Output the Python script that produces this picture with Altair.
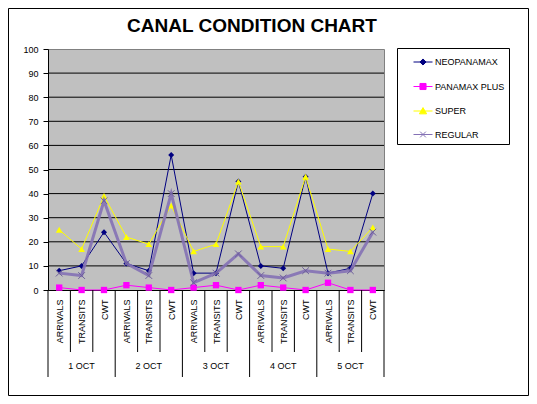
import altair as alt
import pandas as pd

# ---------------- data ----------------
title_text = "CANAL CONDITION CHART"
categories = ["ARRIVALS", "TRANSITS", "CWT"] * 5
days = ["1 OCT", "2 OCT", "3 OCT", "4 OCT", "5 OCT"]
series_names = ["NEOPANAMAX", "PANAMAX PLUS", "SUPER", "REGULAR"]
neopanamax = [8, 10, 24, 11, 8, 56, 7, 7, 45, 10, 9, 47, 7, 9, 40]
panamax_plus = [1, 0, 0, 2, 1, 0, 1, 2, 0, 2, 1, 0, 3, 0, 0]
super_ = [25, 17, 39, 22, 19, 35, 16, 19, 45, 18, 18, 47, 17, 16, 26]
regular = [7, 6, 37, 11, 6, 40, 3, 7, 15, 6, 5, 8, 7, 8, 24]
y_ticks = list(range(0, 101, 10))

values = {"NEOPANAMAX": neopanamax, "PANAMAX PLUS": panamax_plus,
          "SUPER": super_, "REGULAR": regular}
rows = []
for s in series_names:
    for i, v in enumerate(values[s]):
        rows.append({"series": s, "idx": i, "category": categories[i],
                     "day": days[i // 3], "value": v})
df = pd.DataFrame(rows)

n = len(categories)
per_day = n // len(days)
inner_bounds = [i + 0.5 for i in range(n - 1) if (i + 1) % per_day != 0]
group_bounds = [k * per_day - 0.5 for k in range(len(days) + 1)]
day_df = pd.DataFrame({"day": days, "center": [k * per_day + (per_day - 1) / 2 for k in range(len(days))]})

# ---------------- styles ----------------
W, H = 336, 241
FONT = "Liberation Sans"
styles = {
    "NEOPANAMAX": dict(line="#000080", mark="#000080", width=1, shape="diamond", size=36, filled=True),
    "PANAMAX PLUS": dict(line="#FF00FF", mark="#FF00FF", width=1, shape="square", size=40, filled=True),
    "SUPER": dict(line="#FFFF00", mark="#FFFF00", width=1, shape="triangle-up", size=45, filled=True),
    "REGULAR": dict(line="#8471B5", mark="#6D5E9A", width=3, shape="M-1,-1L1,1M-1,1L1,-1", size=45, filled=False),
}
legend_shapes = [
    "M-1,0H1M0,-0.32L0.32,0L0,0.32L-0.32,0Z",
    "M-1,0H1M-0.32,-0.32H0.32V0.32H-0.32Z",
    "M-1,0H1M0,-0.36L0.38,0.3H-0.38Z",
    "M-1,0H1M-0.3,-0.3L0.3,0.3M-0.3,0.3L0.3,-0.3",
]
legend_fill = [styles[s]["mark"] for s in series_names]
legend_stroke = [styles[s]["line"] for s in series_names]

xscale = alt.Scale(domain=[-0.5, n - 0.5], nice=False, zero=False)
yscale = alt.Scale(domain=[0, 100], nice=False, zero=True)

label_js = "[" + ",".join("'" + c + "'" for c in categories) + "]"
x_axis = alt.Axis(values=list(range(n)), labelExpr=label_js + "[datum.value]",
                  labelAngle=270, ticks=False, tickSize=0, labelPadding=9,
                  grid=False, domainColor="black", title=None, labelFontSize=9,
                  labelColor="black", labelOverlap=False, labelFlush=False, labelFont=FONT)
y_axis = alt.Axis(values=y_ticks, grid=False, tickColor="black", tickSize=5,
                  labelPadding=5, domainColor="black", title=None, labelFontSize=9,
                  labelColor="black", labelFont=FONT)


def X(field):
    return alt.X(field, scale=xscale, axis=x_axis, title=None)


def Y(field):
    return alt.Y(field, scale=yscale, axis=y_axis, title=None)


# grid lines (inside plot, skipping 0 and 100)
grid = alt.Chart(pd.DataFrame({"value": y_ticks[1:-1]})).mark_rule(
    color="black", strokeWidth=1).encode(y=Y("value:Q"))

layers = [grid]
for s in series_names:
    st = styles[s]
    d = df[df["series"] == s]
    line = alt.Chart(d).mark_line(color=st["line"], strokeWidth=st["width"],
                                  opacity=0.9 if s == "REGULAR" else 1).encode(
        x=X("idx:Q"), y=Y("value:Q"))
    if st["filled"]:
        pts = alt.Chart(d).mark_point(shape=st["shape"], size=st["size"], filled=True,
                                      fill=st["mark"], opacity=1).encode(
            x=X("idx:Q"), y=Y("value:Q"))
    else:
        pts = alt.Chart(d).mark_point(shape=st["shape"], size=st["size"], filled=False,
                                      stroke=st["mark"], strokeWidth=1, opacity=1).encode(
            x=X("idx:Q"), y=Y("value:Q"))
    layers += [line, pts]

sep_inner = alt.Chart(pd.DataFrame({"idx": inner_bounds})).mark_rule(
    color="black", strokeWidth=1).encode(x=X("idx:Q"), y=alt.value(H), y2=alt.value(H + 62))
sep_group = alt.Chart(pd.DataFrame({"idx": group_bounds})).mark_rule(
    color="black", strokeWidth=1).encode(x=X("idx:Q"), y=alt.value(H), y2=alt.value(H + 87))
day_labels = alt.Chart(day_df).mark_text(fontSize=9, font=FONT, color="black",
                                         baseline="middle", align="center").encode(
    x=X("center:Q"), y=alt.value(H + 76), text="day:N")

title = alt.Chart(pd.DataFrame({"t": [title_text]})).mark_text(
    fontSize=19, fontWeight="bold", font=FONT, color="black",
    align="center", baseline="alphabetic").encode(
    x=alt.value(204), y=alt.value(-17), text="t:N")

border = alt.Chart(pd.DataFrame({"k": [0]})).mark_rect(
    fill="transparent", stroke="black", strokeWidth=1).encode(
    x=alt.value(-39.5), x2=alt.value(480.5), y=alt.value(-40.5), y2=alt.value(346.5))

legend_obj = alt.Legend(title=None, orient="none", legendX=349, legendY=-1,
                        labelExpr="datum.label + '\u00a0\u00a0\u00a0\u00a0'")
legend_layer = alt.Chart(df).mark_point(filled=True, strokeWidth=1, opacity=1).encode(
    x=X("idx:Q"), y=Y("value:Q"),
    fill=alt.Fill("series:N", scale=alt.Scale(domain=series_names, range=legend_fill), legend=legend_obj),
    stroke=alt.Stroke("series:N", scale=alt.Scale(domain=series_names, range=legend_stroke), legend=legend_obj),
    shape=alt.Shape("series:N", scale=alt.Scale(domain=series_names, range=legend_shapes), legend=legend_obj),
).transform_filter("false")

layers += [sep_inner, sep_group, day_labels, title, border, legend_layer]

chart = alt.layer(*layers).properties(
    width=W, height=H,
    autosize=alt.AutoSizeParams(type="none"),
    padding={"left": 40, "top": 41, "right": 145, "bottom": 106},
).configure(font=FONT).configure_view(
    fill="#C0C0C0", stroke="#808080", strokeWidth=1
).configure_legend(
    padding=4, strokeColor="black", fillColor="white", symbolSize=361,
    symbolStrokeWidth=1, symbolOffset=12, labelOffset=2, rowPadding=8.5,
    labelFontSize=9, labelFont=FONT, labelColor="black", labelLimit=0,
)

chart.save("out.html", embed_options={"renderer": "svg", "actions": False})
